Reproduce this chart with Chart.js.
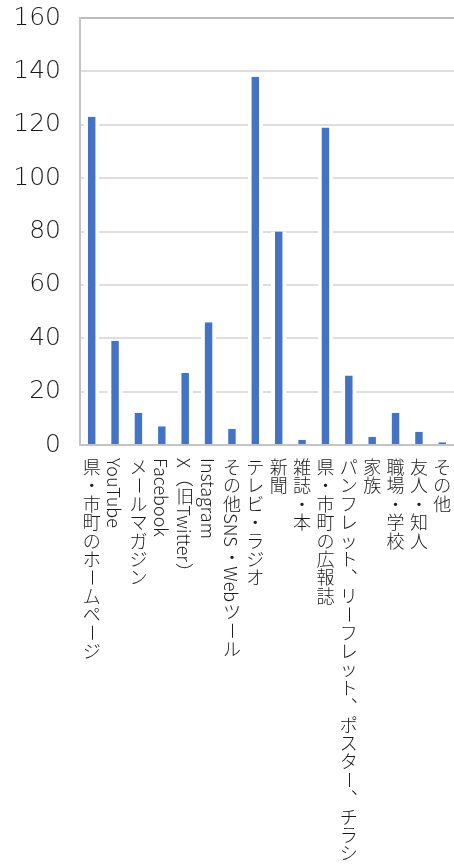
<!DOCTYPE html>
<html lang="ja">
<head>
<meta charset="utf-8">
<title>情報の入手先</title>
<script src="https://cdn.jsdelivr.net/npm/chart.js@4.4.1/dist/chart.umd.min.js"></script>
<style>
  html, body { margin: 0; padding: 0; background: #fff; }
  #wrap { width: 454px; height: 866px; }
</style>
</head>
<body>
<div id="wrap"><canvas id="chart" width="454" height="866"></canvas></div>
<script>
const categories = [
    '県・市町のホームページ',
    'YouTube',
    'メールマガジン',
    'Facebook',
    'X（旧Twitter）',
    'Instagram',
    'その他SNS・Webツール',
    'テレビ・ラジオ',
    '新聞',
    '雑誌・本',
    '県・市町の広報誌',
    'パンフレット、リーフレット、ポスター、チラシ',
    '家族',
    '職場・学校',
    '友人・知人',
    'その他'
];
const counts = [123, 39, 12, 7, 27, 46, 6, 138, 80, 2, 119, 26, 3, 12, 5, 1];
const yTicks = [0, 20, 40, 60, 80, 100, 120, 140, 160];

const LABEL_FONT = '300 18px "Noto Sans CJK JP", "Noto Sans", sans-serif';
const PITCH = 18.4;          // advance per upright character
const ROTATED = 'ー（）〜－';   // characters turned sideways in vertical text
const PUNCT = '、。';

// split a label into latin runs (drawn sideways) and single characters
function splitRuns(text) {
    const runs = [];
    let buf = '';
    for (const ch of text) {
        if (/[A-Za-z0-9]/.test(ch)) {
            buf += ch;
            continue;
        }
        if (buf) { runs.push({ t: buf, latin: true }); buf = ''; }
        runs.push({ t: ch, latin: false });
    }
    if (buf) runs.push({ t: buf, latin: true });
    return runs;
}

function drawVertical(ctx, text, x, y) {
    splitRuns(text).forEach(r => {
        if (r.latin) {
            ctx.save();
            ctx.translate(x, y);
            ctx.rotate(Math.PI / 2);
            ctx.textAlign = 'left';
            ctx.textBaseline = 'middle';
            ctx.fillText(r.t, 0, 1);
            ctx.restore();
            y += ctx.measureText(r.t).width + 1;
        } else if (ROTATED.includes(r.t)) {
            ctx.save();
            ctx.translate(x, y + PITCH / 2);
            ctx.rotate(Math.PI / 2);
            ctx.textAlign = 'center';
            ctx.textBaseline = 'middle';
            ctx.fillText(r.t, 0, 0);
            ctx.restore();
            y += PITCH;
        } else if (PUNCT.includes(r.t)) {
            // vertical commas sit in the upper right of the cell
            ctx.fillText(r.t, x + 11, y + PITCH / 2 - 11);
            y += PITCH;
        } else {
            ctx.fillText(r.t, x, y + PITCH / 2);
            y += PITCH;
        }
    });
}

const verticalLabels = {
    id: 'verticalLabels',
    afterDraw(chart) {
        const ctx = chart.ctx;
        const xs = chart.scales.x;
        ctx.save();
        ctx.font = LABEL_FONT;
        ctx.fillStyle = '#1a1a1a';
        ctx.textAlign = 'center';
        ctx.textBaseline = 'middle';
        categories.forEach((label, i) => {
            drawVertical(ctx, label, xs.getPixelForValue(i), xs.top + 13);
        });
        ctx.restore();
    }
};

new Chart(document.getElementById('chart'), {
    type: 'bar',
    data: {
        labels: categories,
        datasets: [{
            data: counts,
            backgroundColor: '#4472C4',
            borderColor: '#ffffff',
            borderWidth: { left: 4, right: 4, top: 0, bottom: 0 },
            barPercentage: 0.66,
            categoryPercentage: 1
        }]
    },
    options: {
        responsive: false,
        animation: false,
        layout: { padding: { top: 18, left: 0, right: 0, bottom: 0 } },
        plugins: {
            legend: { display: false },
            tooltip: { enabled: false }
        },
        scales: {
            x: {
                grid: { display: false },
                border: { display: true, color: '#c4c4c4', width: 2 },
                ticks: { display: false },
                afterFit(scale) { scale.height = 421; }
            },
            y: {
                min: yTicks[0],
                max: yTicks[yTicks.length - 1],
                ticks: {
                    stepSize: yTicks[1] - yTicks[0],
                    padding: 19,
                    color: '#1a1a1a',
                    font: { family: '"DejaVu Sans", sans-serif', size: 25, weight: '200' }
                },
                grid: {
                    drawTicks: false,
                    lineWidth: 2,
                    color: ctx => ctx.tick && ctx.tick.value === yTicks[yTicks.length - 1] ? '#bdbdbd' : '#dedede'
                },
                border: { display: true, color: '#c4c4c4', width: 2 },
                afterFit(scale) {
                    scale.width = 80;
                    scale.paddingTop = 0;
                    scale.paddingBottom = 0;
                }
            }
        }
    },
    plugins: [verticalLabels]
});
</script>
</body>
</html>
